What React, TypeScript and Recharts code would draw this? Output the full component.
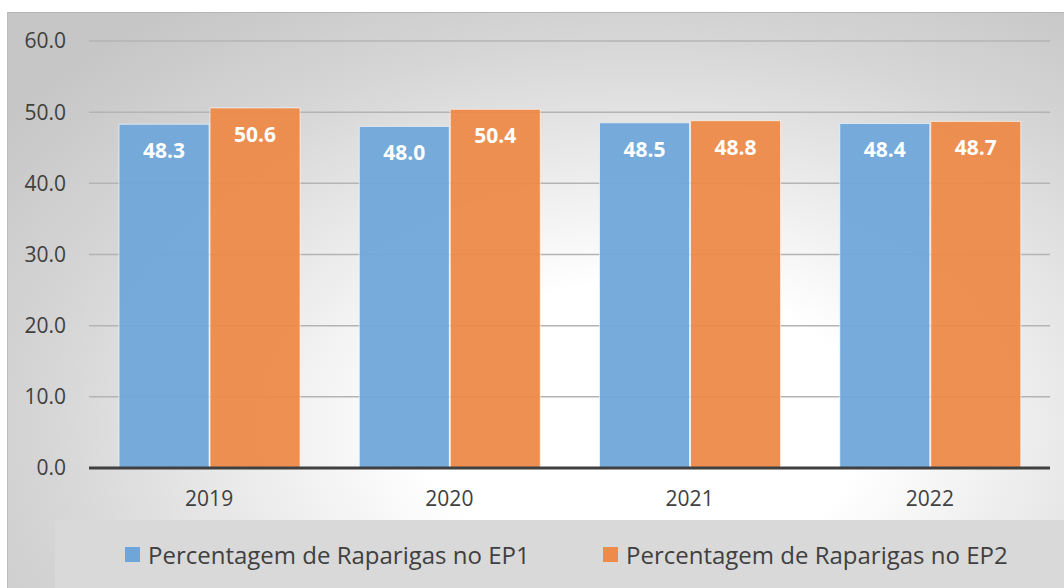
import React from "react";
import { BarChart, Bar, XAxis, YAxis, CartesianGrid, LabelList } from "recharts";

const years = ["2019", "2020", "2021", "2022"];
const ep1 = [48.3, 48.0, 48.5, 48.4];
const ep2 = [50.6, 50.4, 48.8, 48.7];
const yTicks = [0, 10, 20, 30, 40, 50, 60];
const seriesNames = ["Percentagem de Raparigas no EP1", "Percentagem de Raparigas no EP2"];
const colors = ["#6fa6da", "#ee8a4a"];

const data = years.map((y, i) => ({ year: y, ep1: ep1[i], ep2: ep2[i] }));

const font = "'Open Sans', 'Noto Sans', sans-serif";

export default function App() {
  return (
    <div
      style={{
        position: "absolute",
        left: 7,
        top: 12,
        width: 1057,
        height: 576,
        fontFamily: font,
        borderTop: "1px solid #b5b5b5",
        borderLeft: "1px solid #bdbdbd",
        boxSizing: "border-box",
        background:
          "radial-gradient(ellipse 75% 90% at 60% 72%, #ffffff 0%, #ffffff 28%, #ececec 50%, #d6d6d6 75%, #c6c6c6 100%)",
        overflow: "hidden",
      }}
    >
      <BarChart
        width={1057}
        height={576}
        data={data}
        margin={{ top: 29, right: 14, left: 22, bottom: 90 }}
        barCategoryGap="12.5%"
        barGap={1}
        style={{ position: "absolute", left: -1, top: -1 }}
      >
        <CartesianGrid vertical={false} stroke="#b4b4b4" strokeWidth={1.5} />
        <YAxis
          domain={[0, 60]}
          ticks={yTicks}
          tickFormatter={(v: number) => v.toFixed(1)}
          axisLine={false}
          tickLine={false}
          tickSize={0}
          tickMargin={23}
          width={60}
          tick={{ fontSize: 21, fill: "#404040", fontFamily: font }}
        />
        <XAxis
          dataKey="year"
          axisLine={{ stroke: "#404040", strokeWidth: 3 }}
          tickLine={false}
          tickSize={0}
          tickMargin={23}
          height={30}
          tick={{ fontSize: 21, fill: "#404040", fontFamily: font }}
        />
        {(["ep1", "ep2"] as const).map((k, i) => (
          <Bar
            key={k}
            dataKey={k}
            name={seriesNames[i]}
            fill={colors[i]}
            fillOpacity={0.95}
            stroke="#ffffff"
            strokeOpacity={0.6}
            strokeWidth={1}
            isAnimationActive={false}
          >
            <LabelList
              dataKey={k}
              position="insideTop"
              offset={19}
              formatter={(v: number) => v.toFixed(1)}
              style={{ fill: "#ffffff", fontSize: 21, fontWeight: 700, fontFamily: font }}
            />
          </Bar>
        ))}
      </BarChart>
      <div
        style={{
          position: "absolute",
          left: 47,
          top: 507,
          right: 0,
          bottom: 0,
          background: "#d9d9d9",
        }}
      >
        {seriesNames.map((n, i) => (
          <div
            key={n}
            style={{
              position: "absolute",
              left: i === 0 ? 70 : 548,
              top: 18,
              display: "flex",
              alignItems: "center",
              fontSize: 24,
              color: "#404040",
              whiteSpace: "nowrap",
            }}
          >
            <span
              style={{
                display: "inline-block",
                width: 15,
                height: 15,
                background: colors[i],
                marginRight: 8,
              }}
            />
            {n}
          </div>
        ))}
      </div>
    </div>
  );
}
